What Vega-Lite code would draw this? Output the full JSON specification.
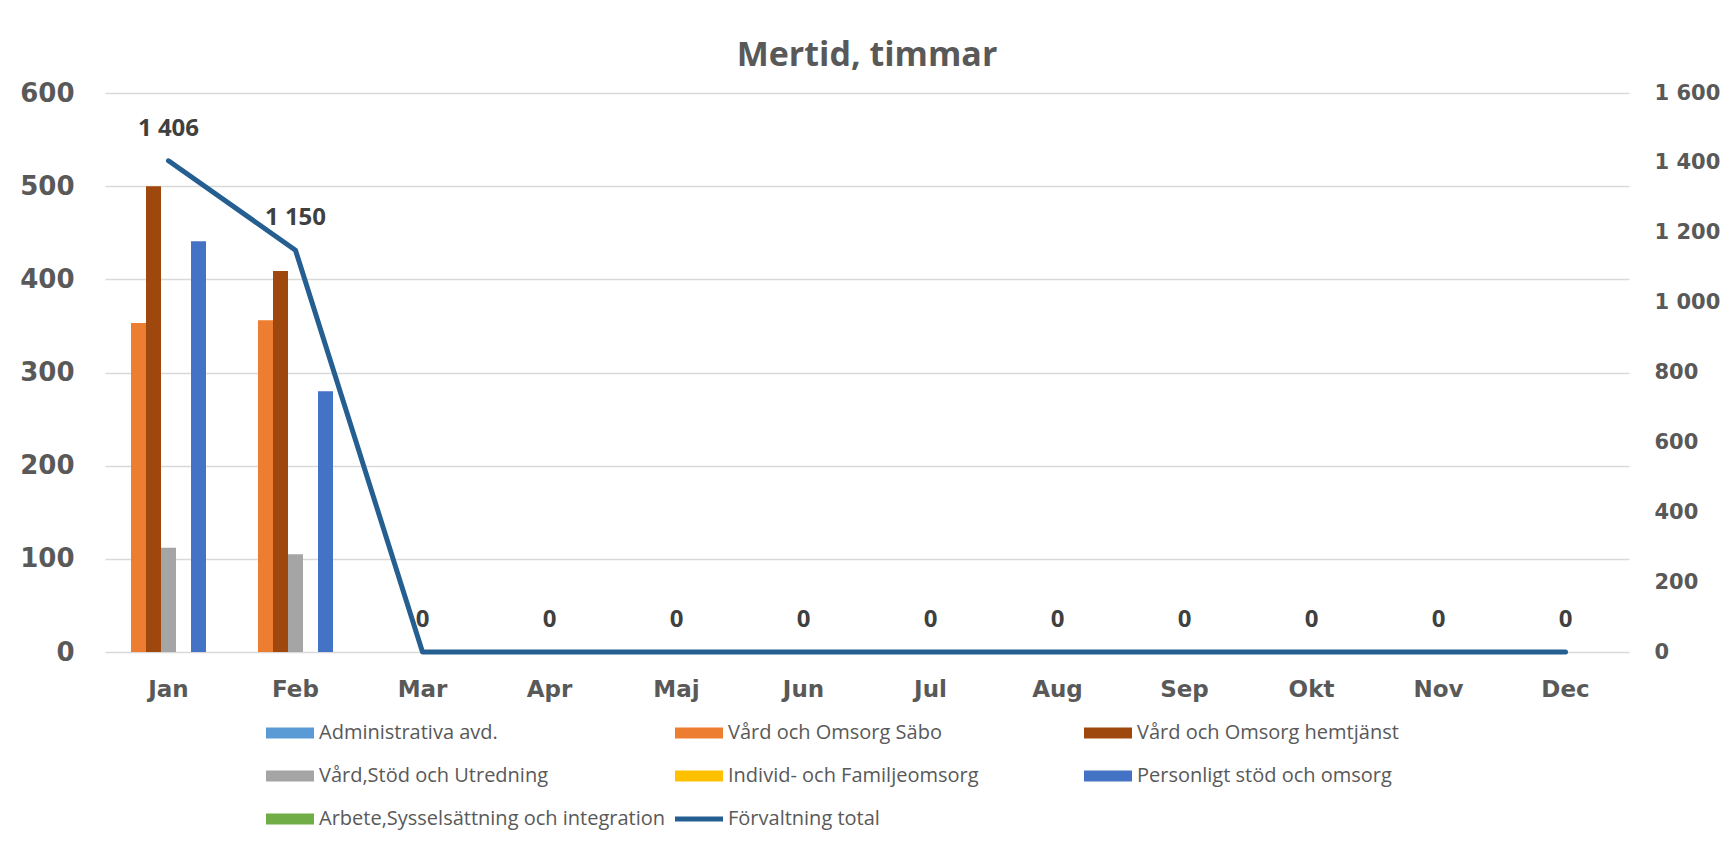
{
  "$schema": "https://vega.github.io/schema/vega-lite/v6.json",
  "width": 1524,
  "height": 559,
  "autosize": {"type": "none"},
  "padding": {"left": 105, "top": 93, "right": 94, "bottom": 195},
  "background": "white",
  "title": {"text": "Mertid, timmar", "font": "Open Sans", "fontSize": 34, "fontWeight": "bold", "color": "#595959", "anchor": "middle", "offset": 7},
  "datasets": {
    "bars": [
      {"month": "Jan", "series": "Vård och Omsorg Säbo", "value": 353},
      {"month": "Jan", "series": "Vård och Omsorg hemtjänst", "value": 500},
      {"month": "Jan", "series": "Vård,Stöd och Utredning", "value": 112},
      {"month": "Jan", "series": "Personligt stöd och omsorg", "value": 441},
      {"month": "Feb", "series": "Vård och Omsorg Säbo", "value": 356},
      {"month": "Feb", "series": "Vård och Omsorg hemtjänst", "value": 409},
      {"month": "Feb", "series": "Vård,Stöd och Utredning", "value": 105},
      {"month": "Feb", "series": "Personligt stöd och omsorg", "value": 280}
    ],
    "totals": [
      {"month": "Jan", "series": "Förvaltning total", "total": 1406},
      {"month": "Feb", "series": "Förvaltning total", "total": 1150},
      {"month": "Mar", "series": "Förvaltning total", "total": 0},
      {"month": "Apr", "series": "Förvaltning total", "total": 0},
      {"month": "Maj", "series": "Förvaltning total", "total": 0},
      {"month": "Jun", "series": "Förvaltning total", "total": 0},
      {"month": "Jul", "series": "Förvaltning total", "total": 0},
      {"month": "Aug", "series": "Förvaltning total", "total": 0},
      {"month": "Sep", "series": "Förvaltning total", "total": 0},
      {"month": "Okt", "series": "Förvaltning total", "total": 0},
      {"month": "Nov", "series": "Förvaltning total", "total": 0},
      {"month": "Dec", "series": "Förvaltning total", "total": 0}
    ]
  },
  "encoding": {
    "x": {
      "field": "month", "type": "nominal",
      "sort": ["Jan","Feb","Mar","Apr","Maj","Jun","Jul","Aug","Sep","Okt","Nov","Dec"],
      "scale": {"domain": ["Jan","Feb","Mar","Apr","Maj","Jun","Jul","Aug","Sep","Okt","Nov","Dec"], "paddingInner": 0.1732, "paddingOuter": 0.0866},
      "axis": {"orient": "bottom", "title": null, "labelAngle": 0, "domain": false, "ticks": false, "grid": false, "labelFont": "DejaVu Sans", "labelFontWeight": "bold", "labelFontSize": 23, "labelColor": "#595959", "labelPadding": 26}
    }
  },
  "layer": [
    {
      "data": {"name": "bars"},
      "mark": {"type": "bar"},
      "encoding": {
        "xOffset": {"field": "series", "type": "nominal", "scale": {"domain": ["Administrativa avd.","Vård och Omsorg Säbo","Vård och Omsorg hemtjänst","Vård,Stöd och Utredning","Individ- och Familjeomsorg","Personligt stöd och omsorg","Arbete,Sysselsättning och integration"], "paddingInner": 0, "paddingOuter": 0}},
        "y": {"field": "value", "type": "quantitative", "scale": {"domain": [0, 600], "nice": false},
          "axis": {"orient": "left", "title": null, "values": [0,100,200,300,400,500,600], "grid": true, "gridColor": "#d9d9d9", "gridWidth": 1.5, "domain": false, "ticks": false, "labelFont": "DejaVu Sans", "labelFontWeight": "bold", "labelFontSize": 26, "labelColor": "#595959", "labelPadding": 31}},
        "color": {"field": "series", "type": "nominal",
          "scale": {"domain": ["Administrativa avd.","Vård och Omsorg Säbo","Vård och Omsorg hemtjänst","Vård,Stöd och Utredning","Individ- och Familjeomsorg","Personligt stöd och omsorg","Arbete,Sysselsättning och integration","Förvaltning total"],
                    "range": ["#5B9BD5","#ED7D31","#9E480E","#A5A5A5","#FFC000","#4472C4","#70AD47","#255E91"]},
          "legend": {
            "title": null, "orient": "none", "legendX": 161, "legendY": 616, "direction": "horizontal", "columns": 3, "gridAlign": "all",
            "padding": 0, "columnPadding": 9, "rowPadding": 9,
            "labelFont": "Open Sans", "labelFontSize": 20, "labelColor": "#595959", "labelLimit": 500, "labelOffset": 5,
            "symbolSize": 2304, "symbolType": "M-1,-0.229H1V0.229H-1Z", "symbolOpacity": 1, "symbolStrokeWidth": 0,
            "encode": {"symbols": {"update": {
              "fill": {"scale": "color", "field": "value"},
              "stroke": {"value": "transparent"},
              "opacity": {"value": 1},
              "shape": {"signal": "datum.value === 'Förvaltning total' ? 'M-1,-0.1H1V0.1H-1Z' : 'M-1,-0.229H1V0.229H-1Z'"}
            }}}
          }
        }
      }
    },
    {
      "data": {"name": "totals"},
      "encoding": {
        "y": {"field": "total", "type": "quantitative", "scale": {"domain": [0, 1600], "nice": false},
          "axis": {"orient": "right", "title": null, "values": [0,200,400,600,800,1000,1200,1400,1600], "format": ",d", "grid": false, "domain": false, "ticks": false, "labelFont": "DejaVu Sans", "labelFontWeight": "bold", "labelFontSize": 21, "labelColor": "#595959", "labelPadding": 25}}
      },
      "layer": [
        {
          "mark": {"type": "line", "strokeWidth": 5, "strokeCap": "round", "strokeJoin": "round"},
          "encoding": {"color": {"field": "series", "type": "nominal"}}
        },
        {
          "mark": {"type": "text", "font": "Open Sans", "fontSize": 24, "fontWeight": "bold", "color": "#404040", "baseline": "alphabetic", "dy": -25},
          "encoding": {"text": {"field": "total", "type": "quantitative", "format": ",d"}}
        }
      ]
    }
  ],
  "resolve": {"scale": {"y": "independent"}},
  "config": {
    "view": {"stroke": null},
    "locale": {"number": {"decimal": ",", "thousands": " ", "grouping": [3], "currency": ["", ""]}}
  }
}
